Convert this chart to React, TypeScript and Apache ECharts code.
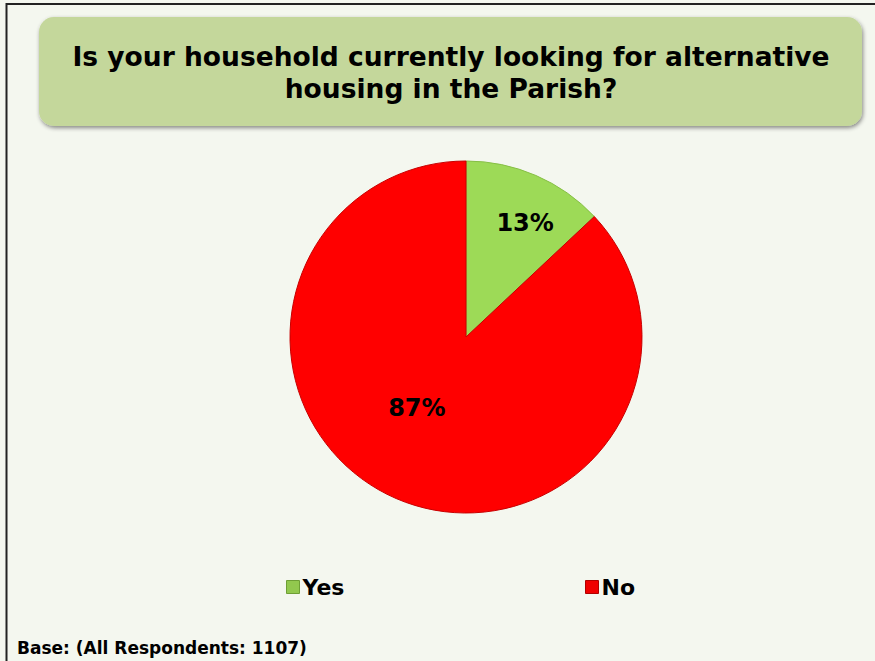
import React, { useEffect, useRef } from "react";
import * as echarts from "echarts";

const titleLines = ["Is your household currently looking for alternative", "housing in the Parish?"];
const categories = ["Yes", "No"];
const values = [13, 87];
const baseNote = "Base: (All Respondents: 1107)";

const FONT = "'DejaVu Sans', Verdana, sans-serif";

export default function App() {
  const ref = useRef<HTMLDivElement>(null);
  useEffect(() => {
    if (!ref.current) return;
    const chart = echarts.init(ref.current, undefined, { renderer: "svg" });
    const colors = ["#9DDA57", "#FF0000"];
    const borderColors = ["#86BF45", "#C80000"];
    const labelOffsets = [[23, -30], [-13, -13]];
    const legendColors = ["#92C84E", "#F00000"];
    const legendLefts = [281, 580];
    const option: any = {
      animation: false,
      backgroundColor: "#F4F7EF",
      graphic: [
        {
          type: "rect",
          shape: { x: 6.5, y: 4, width: 900, height: 700 },
          style: { fill: "transparent", stroke: "#222", lineWidth: 2 },
          silent: true,
        },
        {
          type: "rect",
          shape: { x: 39, y: 17, width: 823, height: 109, r: 15 },
          style: {
            fill: "#C4D79B",
            shadowBlur: 4,
            shadowOffsetX: 1,
            shadowOffsetY: 2,
            shadowColor: "rgba(0,0,0,0.45)",
          },
          silent: true,
        },
        {
          type: "text",
          x: 451,
          y: 56.5,
          style: {
            text: titleLines[0],
            fontFamily: FONT,
            fontWeight: "bold",
            fontSize: 26.5,
            fill: "#000",
            align: "center",
            verticalAlign: "middle",
          },
        },
        {
          type: "text",
          x: 451,
          y: 88,
          style: {
            text: titleLines[1],
            fontFamily: FONT,
            fontWeight: "bold",
            fontSize: 26.5,
            fill: "#000",
            align: "center",
            verticalAlign: "middle",
          },
        },
        {
          type: "text",
          x: 17,
          y: 648,
          style: {
            text: baseNote,
            fontFamily: FONT,
            fontWeight: "bold",
            fontSize: 17,
            fill: "#000",
            align: "left",
            verticalAlign: "middle",
          },
        },
      ],
      legend: categories.map((c, i) => ({
        data: [{ name: c, itemStyle: { color: legendColors[i], borderColor: i === 0 ? "#6E9E35" : "#B00000", borderWidth: 1 } }],
        left: legendLefts[i],
        top: 571,
        icon: "rect",
        itemWidth: 13,
        itemHeight: 13,
        itemGap: 10,
        textStyle: { fontFamily: FONT, fontWeight: "bold", fontSize: 22, color: "#000", padding: [2, 0, 0, -2] },
      })),
      series: [
        {
          type: "pie",
          center: [466, 337],
          radius: 176,
          startAngle: 90,
          clockwise: true,
          avoidLabelOverlap: false,
          label: {
            show: true,
            position: "inside",
            formatter: "{c}%",
            fontFamily: FONT,
            fontWeight: "bold",
            fontSize: 24,
            color: "#000",
          },
          labelLine: { show: false },
          emphasis: { disabled: true },
          data: categories.map((c, i) => ({
            name: c,
            value: values[i],
            itemStyle: { color: colors[i], borderColor: borderColors[i], borderWidth: 1 },
            label: { offset: labelOffsets[i] },
          })),
        },
      ],
    };
    chart.setOption(option);
    return () => chart.dispose();
  }, []);
  return (
    <div
      ref={ref}
      style={{ position: "absolute", left: 0, top: 0, width: 875, height: 661 }}
    />
  );
}
